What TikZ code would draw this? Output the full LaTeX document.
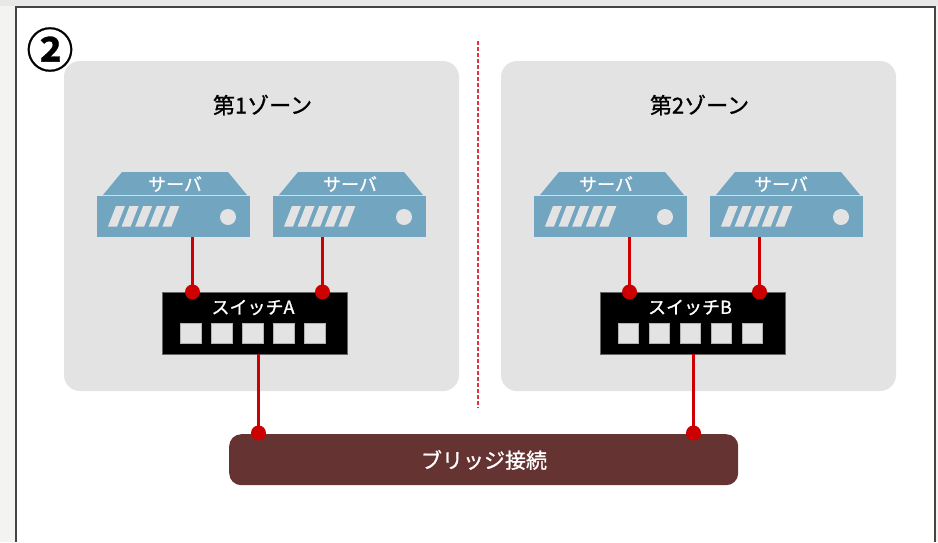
\documentclass[tikz,border=0pt]{standalone}
\usepackage{fontspec}
\setmainfont{Noto Sans CJK JP}
\newfontfamily\cjkbold{Noto Sans CJK JP Bold}[RawFeature={embolden=0.6}]
\newfontfamily\cjkmed{Noto Sans CJK JP}[RawFeature={embolden=1.0}]
\definecolor{zonegray}{HTML}{E3E3E3}
\definecolor{srvblue}{HTML}{72A5C0}
\definecolor{linered}{HTML}{CC0000}
\definecolor{divred}{HTML}{DD3344}
\definecolor{bridgebrown}{HTML}{663333}
\definecolor{outergray}{HTML}{F3F3F1}
\definecolor{outertop}{HTML}{E8E8E8}
\definecolor{framegray}{HTML}{444444}
\definecolor{portgray}{HTML}{E3E3E3}
\tikzset{
  zonebox/.style={fill=zonegray,rounded corners=16pt},
  switchbox/.style={fill=black,draw=black!60!white,line width=.5pt,anchor=north west,inner sep=0,minimum width=184.5pt,minimum height=61.5pt},
  srvbody/.style={fill=srvblue,anchor=north west,inner sep=0,minimum width=153pt,minimum height=41pt},
  wire/.style={draw=linered,line width=3pt},
  dot/.style={circle,fill=linered,inner sep=0,minimum size=15pt},
  port/.style={fill=portgray,draw=black!30!white,line width=.3pt,inner sep=0,minimum width=20.5pt,minimum height=20pt},
  whitelab/.style={text=white,inner sep=0,font=\cjkmed\fontsize{18}{18}\selectfont},
  zonelab/.style={text=black,inner sep=0,font=\cjkmed\fontsize{22}{22}\selectfont},
}
% server at x offset #1, name #2, label centre x #3
\newcommand{\srvdraw}[3]{%
  \fill[srvblue] (#1+25,172) -- (#1+131,172) -- (#1+150,195) -- (#1+6,195) -- cycle;
  \node[srvbody] (#2) at (#1,196) {};
  \node[whitelab] (#2lab) at (#3,184) {サーバ};
  \foreach \bx in {0,13.6,27.2,40.8,54.4}{
    \fill[portgray] (#1+11+\bx,226.5) -- (#1+19+\bx,206) -- (#1+28+\bx,206) -- (#1+20+\bx,226.5) -- cycle;
  }
  \node[circle,fill=portgray,inner sep=0,minimum size=16pt] (#2led) at (#1+131,217) {};
}
\begin{document}
\begin{tikzpicture}[x=1pt,y=-1pt]
\useasboundingbox (0,0) rectangle (938,542);
\fill[outergray] (0,0) rectangle (938,542);
\fill[outertop] (0,0) rectangle (938,6);
\fill[white] (15.5,6.5) rectangle (935,542);
\draw[framegray,line width=2pt] (15.5,542) -- (15.5,6.5) -- (935,6.5) -- (935,542);
\fill[zonebox] (64,61) rectangle (459,391);
\fill[zonebox] (501,61) rectangle (896,391);
\coordinate (divtop) at (477.5,41);
\coordinate (divbot) at (477.5,408);
\draw[draw=divred,line width=2pt,dash pattern=on 3.5pt off 2.5pt] (divtop) -- (divbot);
\node[inner sep=0] (num) at (50,49.5) {\cjkbold\fontsize{47}{47}\selectfont ②};
\node[zonelab] (z1) at (262.5,105) {第1ゾーン};
\node[zonelab] (z2) at (699.5,105) {第2ゾーン};
\srvdraw{97}{sa}{175}
\srvdraw{273}{sb}{350}
\srvdraw{534}{sc}{606}
\srvdraw{710}{sd}{781}
\node[switchbox] (swa) at (162,292) {};
\node[switchbox] (swb) at (600,292) {};
\node[fill=bridgebrown,rounded corners=12pt,inner sep=0,minimum width=509pt,minimum height=51pt,anchor=north west] (br) at (229,434) {};
\node[whitelab] at (253,307.5) {スイッチA};
\node[whitelab] at (690,307.5) {スイッチB};
\node[text=white,inner sep=0,font=\cjkmed\fontsize{21}{21}\selectfont] at (484,460) {ブリッジ接続};
\foreach \px [count=\i] in {190.5,221.5,252.5,283.5,314.5}{
  \node[port] (pa\i) at (\px,333) {};
  \node[port] (pb\i) at (\px+437.5,333) {};
}
% connectors
\coordinate (a1) at (192.5,292); \coordinate (a2) at (322.5,292);
\coordinate (b1) at (629.5,292); \coordinate (b2) at (759.5,292);
\coordinate (c1) at (258.5,433); \coordinate (c2) at (693.5,433);
\draw[wire] (sa.south -| a1) -- (a1);
\draw[wire] (sb.south -| a2) -- (a2);
\draw[wire] (sc.south -| b1) -- (b1);
\draw[wire] (sd.south -| b2) -- (b2);
\draw[wire] (swa.south -| c1) -- (c1);
\draw[wire] (swb.south -| c2) -- (c2);
\foreach \c in {a1,a2,b1,b2,c1,c2}{\node[dot] at (\c) {};}
\end{tikzpicture}
\end{document}
